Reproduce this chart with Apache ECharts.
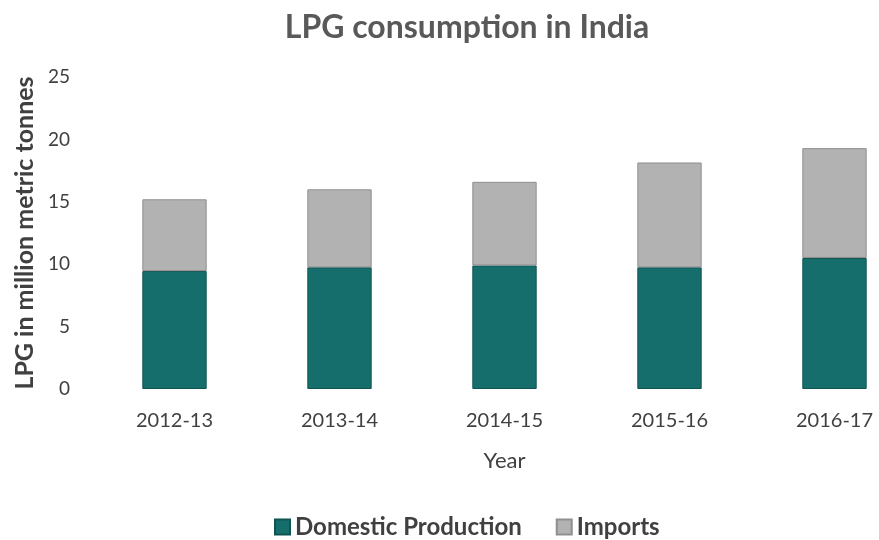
<!DOCTYPE html>
<html><head><meta charset="utf-8">
<script src="https://cdn.jsdelivr.net/npm/echarts@6/dist/echarts.min.js"></script>
<style>html,body{margin:0;padding:0;background:#fff}#c{width:879px;height:540px}</style>
</head><body><div id="c"></div>
<script>
const categories = ['2012-13','2013-14','2014-15','2015-16','2016-17'];
const domestic = [9.45, 9.75, 9.9, 9.75, 10.5];
const imports = [5.75, 6.25, 6.7, 8.4, 8.8];
const yTicks = [0,5,10,15,20,25];

const chart = echarts.init(document.getElementById('c'));
const font = 'Lato, sans-serif';
chart.setOption({
  animation:false,
  title:{text:'LPG consumption in India',left:462,top:7,textAlign:'center',
    textStyle:{fontFamily:font,fontSize:32,fontWeight:'bold',color:'#595959'}},
  legend:{bottom:-4,left:269,itemWidth:15,itemHeight:15,itemGap:34,icon:'rect',
    textStyle:{fontFamily:font,fontSize:24,fontWeight:'bold',color:'#404040'},
    data:['Domestic Production','Imports']},
  grid:{left:92,width:825,top:77,bottom:151,containLabel:false,outerBoundsMode:'none'},
  xAxis:{type:'category',data:categories,name:'Year',nameLocation:'middle',nameGap:61,
    nameTextStyle:{fontFamily:font,fontSize:22,color:'#404040'},
    axisLine:{show:false},axisTick:{show:false},
    axisLabel:{fontFamily:font,fontSize:20,color:'#404040',margin:22}},
  yAxis:{type:'value',min:0,max:25,interval:5,name:'LPG in million metric tonnes',
    nameLocation:'middle',nameGap:52,
    nameTextStyle:{fontFamily:font,fontSize:25,fontWeight:'bold',color:'#404040'},
    splitLine:{show:false},axisLine:{show:false},axisTick:{show:false},
    axisLabel:{fontFamily:font,fontSize:19,color:'#404040',margin:22,
      formatter:v=>yTicks.includes(v)?String(v):''}},
  series:[
    {name:'Domestic Production',type:'bar',stack:'t',data:domestic,barWidth:'39%',
      itemStyle:{color:'#156E6B',borderColor:'#0E5452',borderWidth:1}},
    {name:'Imports',type:'bar',stack:'t',data:imports,barWidth:'39%',
      itemStyle:{color:'#B2B2B2',borderColor:'#8f8f8f',borderWidth:1}}
  ]
});
</script></body></html>
